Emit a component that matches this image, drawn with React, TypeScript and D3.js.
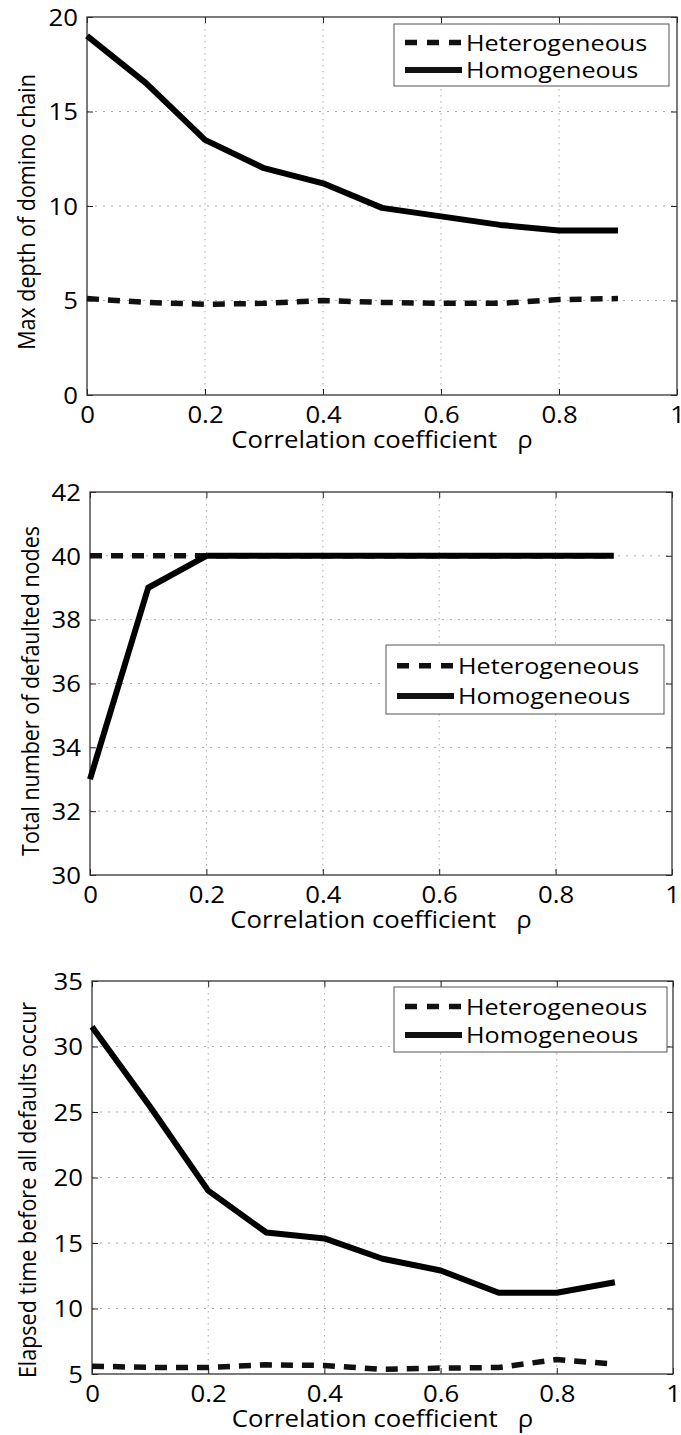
import React, { useEffect, useRef } from "react";
import * as d3 from "d3";

// correlation coefficient rho on the x axis
const rho = [0, 0.1, 0.2, 0.3, 0.4, 0.5, 0.6, 0.7, 0.8, 0.9];
const xTicks = [0, 0.2, 0.4, 0.6, 0.8, 1];
const legendLabels = ["Heterogeneous", "Homogeneous"];

// panel 1: max depth of domino chain
const depthHetero = [5.1, 4.9, 4.8, 4.85, 5.0, 4.9, 4.85, 4.85, 5.05, 5.1];
const depthHomo = [19.0, 16.5, 13.5, 12.0, 11.2, 9.9, 9.45, 9.0, 8.7, 8.7];
const depthTicks = [0, 5, 10, 15, 20];

// panel 2: total number of defaulted nodes
const defaultedHetero = [40, 40, 40, 40, 40, 40, 40, 40, 40, 40];
const defaultedHomo = [33, 39, 40, 40, 40, 40, 40, 40, 40, 40];
const defaultedTicks = [30, 32, 34, 36, 38, 40, 42];

// panel 3: elapsed time before all defaults occur
const elapsedHetero = [5.6, 5.5, 5.5, 5.7, 5.65, 5.35, 5.45, 5.5, 6.1, 5.75];
const elapsedHomo = [31.5, 25.4, 19.0, 15.8, 15.35, 13.8, 12.9, 11.2, 11.2, 12.0];
const elapsedTicks = [5, 10, 15, 20, 25, 30, 35];

const FONT = "'Open Sans', 'DejaVu Sans', sans-serif";
const SX = 1.12; // the figure is a bit stretched sideways

const panels = [
  {
    yLabel: "Max depth of domino chain",
    hetero: depthHetero, homo: depthHomo, yTicks: depthTicks,
    left: 87, right: 677, top: 17, bottom: 395,
    legend: { x: 394, y: 24, w: 275, h: 62 },
    yLabelX: 35, yLabelY: 212,
  },
  {
    yLabel: "Total number of defaulted nodes",
    hetero: defaultedHetero, homo: defaultedHomo, yTicks: defaultedTicks,
    left: 90, right: 672, top: 492, bottom: 875,
    legend: { x: 386, y: 645, w: 278, h: 69 },
    yLabelX: 39, yLabelY: 691,
  },
  {
    yLabel: "Elapsed time before all defaults occur",
    hetero: elapsedHetero, homo: elapsedHomo, yTicks: elapsedTicks,
    left: 92, right: 673, top: 981, bottom: 1374,
    legend: { x: 394, y: 987, w: 273, h: 65 },
    yLabelX: 36, yLabelY: 1190,
  },
];

const App = () => {
  const svgRef = useRef<SVGSVGElement>(null);

  useEffect(() => {
    document.body.style.margin = "0";
    const svg = d3.select(svgRef.current);
    svg.selectAll("*").remove();

    panels.forEach((p) => {
      const x = d3.scaleLinear().domain([0, 1]).range([p.left, p.right]);
      const y = d3.scaleLinear()
        .domain([p.yTicks[0], p.yTicks[p.yTicks.length - 1]])
        .range([p.bottom, p.top]);
      const g = svg.append("g").attr("font-family", FONT);

      // dotted grid
      g.append("g").selectAll("line")
        .data(xTicks.slice(1, -1))
        .join("line")
        .attr("x1", (d) => x(d)).attr("x2", (d) => x(d))
        .attr("y1", p.top).attr("y2", p.bottom)
        .attr("stroke", "#aaa")
        .attr("stroke-dasharray", "1.5,4.5");
      g.append("g").selectAll("line")
        .data(p.yTicks.slice(1, -1))
        .join("line")
        .attr("x1", p.left).attr("x2", p.right)
        .attr("y1", (d) => y(d)).attr("y2", (d) => y(d))
        .attr("stroke", "#aaa")
        .attr("stroke-dasharray", "2,6");

      // axes, ticks pointing inward on all sides
      const bottomAxis = g.append("g")
        .attr("transform", `translate(0,${p.bottom})`)
        .call(d3.axisBottom(x).tickValues(xTicks).tickSizeInner(-6).tickSizeOuter(0).tickFormat(d3.format("~g")));
      const leftAxis = g.append("g")
        .attr("transform", `translate(${p.left},0)`)
        .call(d3.axisLeft(y).tickValues(p.yTicks).tickSizeInner(-6).tickSizeOuter(0).tickFormat(d3.format("~g")));
      const topAxis = g.append("g")
        .attr("transform", `translate(0,${p.top})`)
        .call(d3.axisTop(x).tickValues(xTicks).tickSizeInner(-6).tickSizeOuter(0).tickFormat(() => ""));
      const rightAxis = g.append("g")
        .attr("transform", `translate(${p.right},0)`)
        .call(d3.axisRight(y).tickValues(p.yTicks).tickSizeInner(-6).tickSizeOuter(0).tickFormat(() => ""));

      [bottomAxis, leftAxis, topAxis, rightAxis].forEach((a) => {
        a.select(".domain").remove();
        a.attr("font-family", FONT).attr("font-size", 23).attr("color", "#222");
      });
      bottomAxis.selectAll("text")
        .attr("y", 28).attr("dy", 0)
        .attr("fill", "#000")
        .attr("transform", `scale(${SX},1)`);
      leftAxis.selectAll("text")
        .attr("x", -9 / SX).attr("dy", "0.36em")
        .attr("fill", "#000")
        .attr("transform", `scale(${SX},1)`);

      // box
      g.append("rect")
        .attr("x", p.left).attr("y", p.top)
        .attr("width", p.right - p.left).attr("height", p.bottom - p.top)
        .attr("fill", "none").attr("stroke", "#333").attr("stroke-width", 1.3);

      // series
      const line = d3.line<number>()
        .x((d, i) => x(rho[i]))
        .y((d) => y(d));
      g.append("path")
        .datum(p.hetero)
        .attr("d", line)
        .attr("fill", "none").attr("stroke", "#111")
        .attr("stroke-width", 5.5)
        .attr("stroke-dasharray", "12,9");
      g.append("path")
        .datum(p.homo)
        .attr("d", line)
        .attr("fill", "none").attr("stroke", "#000")
        .attr("stroke-width", 6)
        .attr("stroke-linejoin", "round");

      // legend
      const lg = g.append("g").attr("transform", `translate(${p.legend.x},${p.legend.y})`);
      lg.append("rect")
        .attr("width", p.legend.w).attr("height", p.legend.h)
        .attr("fill", "#fff").attr("stroke", "#555").attr("stroke-width", 1);
      legendLabels.forEach((lab, i) => {
        const cy = p.legend.h * (i === 0 ? 0.3 : 0.74);
        lg.append("line")
          .attr("x1", 11).attr("x2", 68).attr("y1", cy).attr("y2", cy)
          .attr("stroke", "#111").attr("stroke-width", i === 0 ? 5.5 : 6)
          .attr("stroke-dasharray", i === 0 ? "12,10" : null);
        lg.append("text")
          .attr("transform", `translate(72,${cy}) scale(${SX},1)`)
          .attr("dy", "0.36em")
          .attr("font-size", 22.5)
          .attr("fill", "#000")
          .text(lab);
      });

      // axis titles
      g.append("text")
        .attr("transform", `translate(${(p.left + p.right) / 2},${p.bottom + 53}) scale(${SX},1)`)
        .attr("text-anchor", "middle")
        .attr("font-size", 23)
        .attr("fill", "#000")
        .text("Correlation coefficient\u00a0\u00a0\u00a0ρ");
      g.append("text")
        .attr("transform", `translate(${p.yLabelX},${p.yLabelY}) rotate(-90) scale(1,${SX})`)
        .attr("text-anchor", "middle")
        .attr("font-size", 21.5)
        .attr("fill", "#000")
        .text(p.yLabel);
    });
  }, []);

  return (
    <svg ref={svgRef} width={681} height={1435} style={{ display: "block", background: "#fff" }} />
  );
};

export default App;
